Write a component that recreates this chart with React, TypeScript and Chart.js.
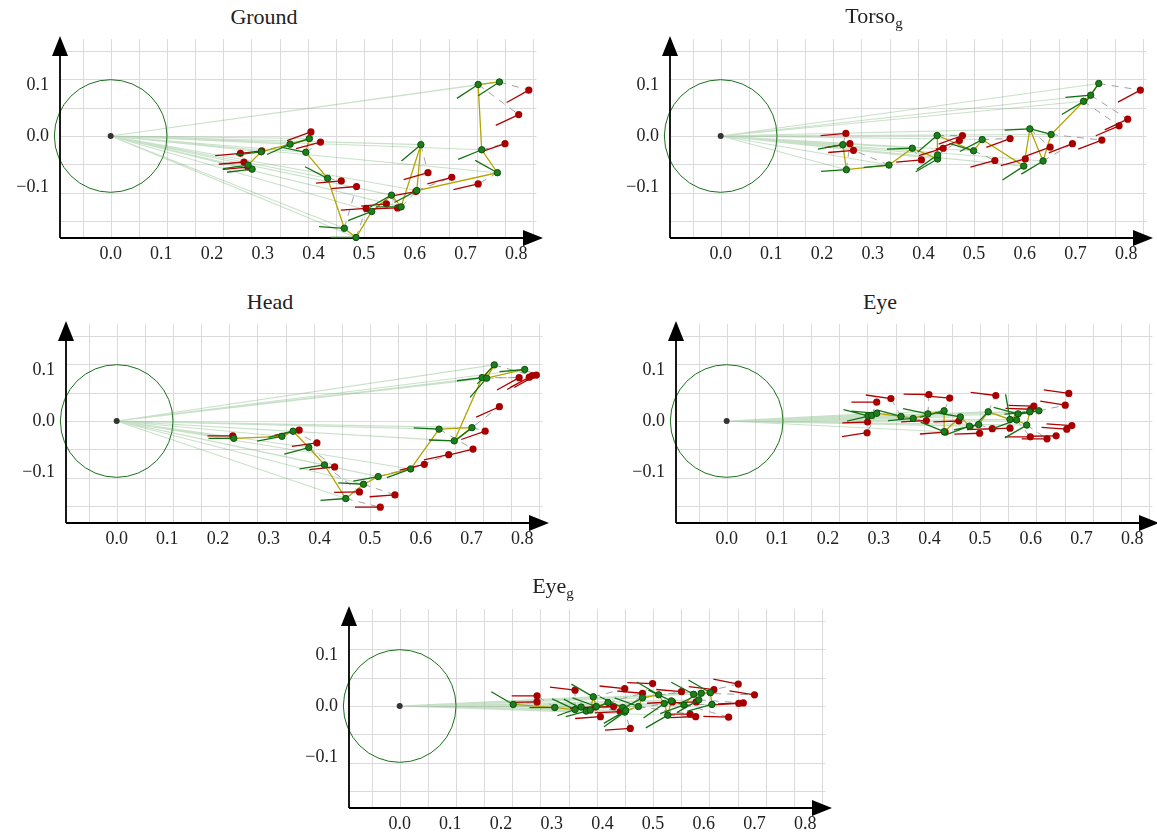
import React, { useEffect, useRef } from "react";
import { Chart, registerables } from "chart.js";

Chart.register(...registerables);

// ---------- axis / tick data ----------
const xTickValues = [0, 0.1, 0.2, 0.3, 0.4, 0.5, 0.6, 0.7, 0.8];
const xTickLabels = ["0.0", "0.1", "0.2", "0.3", "0.4", "0.5", "0.6", "0.7", "0.8"];
const yTickValues = [-0.1, 0, 0.1];
const yTickLabels = ["\u22120.1", "0.0", "0.1"];
const gridStep = 1 / 18;
const circleRadius = 2 / 18;
const headingLength = 0.05;

// ---------- Ground ----------
const groundGreenX = [0.279, 0.271, 0.297, 0.354, 0.392, 0.385, 0.428, 0.461, 0.484, 0.515, 0.554, 0.573, 0.612, 0.604, 0.763, 0.732, 0.725, 0.767];
const groundGreenY = [-0.065, -0.057, -0.031, -0.016, -0.005, -0.032, -0.083, -0.181, -0.199, -0.148, -0.116, -0.139, -0.017, -0.107, -0.072, -0.027, 0.101, 0.106];
const groundGreenHeading = [7, 8, 7, 24, 18, -12, -27, -4, 0, 21, 29, 0, 40, 28, -29, 22, 33, 33];
const groundRedX = [0.271, 0.263, 0.256, 0.298, 0.395, 0.414, 0.455, 0.485, 0.504, 0.544, 0.566, 0.602, 0.626, 0.673, 0.725, 0.778, 0.805, 0.825];
const groundRedY = [-0.061, -0.051, -0.034, -0.029, 0.008, -0.012, -0.088, -0.099, -0.142, -0.133, -0.141, -0.109, -0.072, -0.081, -0.094, -0.015, 0.042, 0.09];
const groundRedHeading = [5, 5, 5, 7, 20, 15, 5, 5, 4, 5, 2, 10, 16, 15, 13, 19, 25, 29];

// ---------- Torso_g ----------
const torsoGreenX = [0.241, 0.248, 0.332, 0.378, 0.428, 0.428, 0.427, 0.499, 0.516, 0.598, 0.61, 0.636, 0.652, 0.716, 0.73, 0.746];
const torsoGreenY = [-0.017, -0.066, -0.057, -0.024, -0.045, -0.037, 0.001, -0.029, -0.007, -0.059, 0.014, -0.049, 0.003, 0.068, 0.08, 0.103];
const torsoGreenHeading = [10, 4, 5, 2, 30, 35, 40, -17, 28, 33, 3, 31, -15, 31, 5, 55];
const torsoRedX = [0.247, 0.255, 0.262, 0.396, 0.439, 0.471, 0.477, 0.541, 0.571, 0.601, 0.65, 0.694, 0.752, 0.786, 0.803, 0.828];
const torsoRedY = [0.005, -0.015, -0.028, -0.047, -0.024, -0.009, 0.001, -0.048, -0.005, -0.045, -0.022, -0.015, -0.008, 0.02, 0.033, 0.09];
const torsoRedHeading = [5, 9, 5, 5, 17, 20, 20, 15, 20, 15, 20, 21, 21, 23, 25, 28];

// ---------- Head ----------
const headGreenX = [0.231, 0.326, 0.348, 0.379, 0.41, 0.452, 0.487, 0.516, 0.58, 0.636, 0.701, 0.666, 0.721, 0.745, 0.73, 0.805];
const headGreenY = [-0.034, -0.03, -0.02, -0.052, -0.086, -0.152, -0.124, -0.109, -0.094, -0.016, -0.013, -0.039, 0.085, 0.11, 0.084, 0.101];
const headGreenHeading = [0, 11, 14, 15, 9, 4, -3, 10, 20, -3, 38, -2, 7, 48, 49, 5];
const headRedX = [0.229, 0.36, 0.395, 0.43, 0.479, 0.52, 0.549, 0.607, 0.655, 0.703, 0.727, 0.755, 0.794, 0.82, 0.814, 0.828];
const headRedY = [-0.029, -0.018, -0.043, -0.09, -0.139, -0.169, -0.145, -0.085, -0.066, -0.055, -0.02, 0.028, 0.085, 0.089, 0.086, 0.09];
const headRedHeading = [0, 12, 8, 6, 1, 0, 4, 13, 12, 14, 19, 24, 29, 28, 29, 29];

// ---------- Eye ----------
const eyeGreenX = [0.279, 0.286, 0.296, 0.344, 0.368, 0.397, 0.429, 0.429, 0.461, 0.479, 0.497, 0.516, 0.559, 0.575, 0.572, 0.592, 0.598, 0.616];
const eyeGreenY = [0.01, 0.011, 0.015, 0.009, 0.005, 0.014, 0.02, -0.021, 0.008, -0.01, -0.007, 0.018, 0.003, 0.014, 0.002, -0.008, 0.018, 0.02];
const eyeGreenHeading = [-14, 13, -5, -15, 5, -12, 15, -22, -10, 20, 12, 45, -80, -15, 20, 30, 5, 10];
const eyeRedX = [0.278, 0.296, 0.277, 0.324, 0.394, 0.399, 0.44, 0.431, 0.458, 0.499, 0.524, 0.531, 0.559, 0.6, 0.599, 0.632, 0.606, 0.668, 0.65, 0.675, 0.681, 0.671];
const eyeRedY = [-0.002, 0.037, -0.023, 0.044, 0.001, 0.052, 0.045, -0.022, 0.0, -0.024, -0.015, 0.05, -0.014, 0.023, -0.031, -0.035, 0.029, 0.031, -0.029, 0.054, -0.009, -0.016];
const eyeRedHeading = [2, 0, 9, -8, 3, -1, -5, 4, 2, 2, 2, -7, 2, -2, 0, 0, -2, -9, 1, -8, -4, -4];

// ---------- Eye_g ----------
const eyegGreenX = [0.224, 0.306, 0.346, 0.358, 0.368, 0.376, 0.382, 0.388, 0.411, 0.44, 0.444, 0.446, 0.471, 0.479, 0.511, 0.522, 0.529, 0.536, 0.561, 0.58, 0.59, 0.595, 0.613, 0.616];
const eyegGreenY = [0.003, -0.003, -0.007, -0.002, -0.01, -0.008, 0.018, -0.001, 0.007, -0.003, -0.012, -0.009, -0.001, 0.016, 0.022, 0.005, -0.018, 0.01, 0.002, 0.023, 0.012, 0.025, 0.026, 0.003];
const eyegGreenHeading = [-30, 0, -25, 20, -28, 15, -30, -20, 25, -25, 35, 30, -20, 28, -30, 35, 30, -25, 20, -28, 30, 25, -30, 15];
const eyegRedX = [0.271, 0.271, 0.346, 0.386, 0.396, 0.422, 0.444, 0.435, 0.479, 0.455, 0.499, 0.538, 0.573, 0.556, 0.62, 0.585, 0.584, 0.649, 0.669, 0.668, 0.678, 0.7];
const eyegRedY = [0.008, 0.02, 0.031, -0.002, -0.021, -0.001, 0.034, -0.011, 0.025, -0.044, 0.044, 0.008, -0.016, 0.028, 0.032, 0.008, -0.021, -0.022, 0.005, 0.043, 0.006, 0.022];
const eyegRedHeading = [1, 0, -7, 3, 4, 2, -6, 3, -5, 4, -2, 3, 0, -5, -7, 2, 2, -2, 3, -11, 2, -9];

// ---------- layout ----------
const PX_PER_UNIT = 510;
const X_MIN = -0.1;
const Y_MIN = -0.2;
const PLOT_W = 486;
const PLOT_H = 202;
const PAD = { left: 62, top: 6, right: 2, bottom: 34 };
const GRID_X_MAX = 0.84;
const GRID_Y_MAX = 0.19;

const FONT_FAMILY = '"Liberation Serif", "DejaVu Serif", serif';

type PanelData = {
  gx: number[]; gy: number[]; gh: number[];
  rx: number[]; ry: number[]; rh: number[];
};

const panels = [
  { title: "Ground", sub: "", axisX: 60, axisBottom: 238, data: { gx: groundGreenX, gy: groundGreenY, gh: groundGreenHeading, rx: groundRedX, ry: groundRedY, rh: groundRedHeading } },
  { title: "Torso", sub: "g", axisX: 670, axisBottom: 238, data: { gx: torsoGreenX, gy: torsoGreenY, gh: torsoGreenHeading, rx: torsoRedX, ry: torsoRedY, rh: torsoRedHeading } },
  { title: "Head", sub: "", axisX: 66, axisBottom: 523, data: { gx: headGreenX, gy: headGreenY, gh: headGreenHeading, rx: headRedX, ry: headRedY, rh: headRedHeading } },
  { title: "Eye", sub: "", axisX: 676, axisBottom: 523, data: { gx: eyeGreenX, gy: eyeGreenY, gh: eyeGreenHeading, rx: eyeRedX, ry: eyeRedY, rh: eyeRedHeading } },
  { title: "Eye", sub: "g", axisX: 349, axisBottom: 808, data: { gx: eyegGreenX, gy: eyegGreenY, gh: eyegGreenHeading, rx: eyegRedX, ry: eyegRedY, rh: eyegRedHeading } },
];

const GAP = { x: NaN, y: NaN };
const rad = (d: number) => (d * Math.PI) / 180;

function buildDatasets(d: PanelData) {
  const rays: any[] = [];
  const olive: any[] = [];
  const gSegs: any[] = [];
  const rSegs: any[] = [];
  const dashes: any[] = [];
  const gPts: any[] = [];
  const rPts: any[] = [];
  d.gx.forEach((x, i) => {
    const y = d.gy[i];
    rays.push({ x: 0, y: 0 }, { x, y }, GAP);
    olive.push({ x, y });
    gSegs.push({ x: x - headingLength * Math.cos(rad(d.gh[i])), y: y - headingLength * Math.sin(rad(d.gh[i])) }, { x, y }, GAP);
    gPts.push({ x, y });
    if (i < d.rx.length) dashes.push({ x, y }, { x: d.rx[i], y: d.ry[i] }, GAP);
  });
  d.rx.forEach((x, i) => {
    const y = d.ry[i];
    rSegs.push({ x: x - headingLength * Math.cos(rad(d.rh[i])), y: y - headingLength * Math.sin(rad(d.rh[i])) }, { x, y }, GAP);
    rPts.push({ x, y });
  });
  const line = { showLine: true, pointRadius: 0, spanGaps: false, tension: 0, fill: false, clip: false };
  return [
    { ...line, data: rays, borderColor: "rgba(90,165,90,0.33)", borderWidth: 1.1, order: 9 },
    { ...line, data: dashes, borderColor: "#a0a0a0", borderWidth: 1, borderDash: [7, 6], order: 8 },
    { ...line, data: olive, borderColor: "#b3a400", borderWidth: 1.3, order: 7 },
    { ...line, data: rSegs, borderColor: "#b00000", borderWidth: 1.3, order: 6 },
    { data: rPts, showLine: false, pointRadius: 3.6, pointBackgroundColor: "#a80000", pointBorderColor: "#a80000", pointBorderWidth: 0, clip: false, order: 5 },
    { ...line, data: gSegs, borderColor: "#137313", borderWidth: 1.3, order: 4 },
    { data: gPts, showLine: false, pointRadius: 3.2, pointBackgroundColor: "#1c7e1c", pointBorderColor: "#0b520b", pointBorderWidth: 1, clip: false, order: 3 },
    { data: [{ x: 0, y: 0 }], showLine: false, pointRadius: 3, pointBackgroundColor: "#333333", pointBorderColor: "#333333", pointBorderWidth: 0, clip: false, order: 2 },
  ];
}

const decorPlugin = {
  id: "decor",
  beforeDatasetsDraw(chart: any) {
    const { ctx, chartArea } = chart;
    const xs = chart.scales.x;
    const ys = chart.scales.y;
    ctx.save();
    // grid
    ctx.strokeStyle = "#dadada";
    ctx.lineWidth = 1;
    const top = ys.getPixelForValue(GRID_Y_MAX);
    const right = xs.getPixelForValue(GRID_X_MAX);
    for (let k = -1; k * gridStep <= GRID_X_MAX + 1e-9; k++) {
      const px = Math.round(xs.getPixelForValue(k * gridStep)) + 0.5;
      ctx.beginPath();
      ctx.moveTo(px, chartArea.bottom);
      ctx.lineTo(px, top);
      ctx.stroke();
    }
    for (let k = -3; k * gridStep <= GRID_Y_MAX; k++) {
      const py = Math.round(ys.getPixelForValue(k * gridStep)) + 0.5;
      ctx.beginPath();
      ctx.moveTo(chartArea.left, py);
      ctx.lineTo(right, py);
      ctx.stroke();
    }
    // circle
    const cx = xs.getPixelForValue(0);
    const cy = ys.getPixelForValue(0);
    const r = xs.getPixelForValue(circleRadius) - cx;
    ctx.strokeStyle = "#1a701a";
    ctx.lineWidth = 1;
    ctx.beginPath();
    ctx.arc(cx, cy, r, 0, Math.PI * 2);
    ctx.stroke();
    // axes
    const ax = xs.getPixelForValue(X_MIN);
    const ay = ys.getPixelForValue(Y_MIN);
    ctx.strokeStyle = "#000";
    ctx.fillStyle = "#000";
    ctx.lineWidth = 1.8;
    ctx.beginPath();
    ctx.moveTo(ax, ay);
    ctx.lineTo(ax, chartArea.top + 18);
    ctx.moveTo(ax, ay);
    ctx.lineTo(chartArea.right - 18, ay);
    ctx.stroke();
    ctx.beginPath();
    ctx.moveTo(ax, chartArea.top);
    ctx.lineTo(ax - 8, chartArea.top + 20);
    ctx.lineTo(ax + 8, chartArea.top + 20);
    ctx.closePath();
    ctx.fill();
    ctx.beginPath();
    ctx.moveTo(chartArea.right, ay);
    ctx.lineTo(chartArea.right - 20, ay - 8);
    ctx.lineTo(chartArea.right - 20, ay + 8);
    ctx.closePath();
    ctx.fill();
    // tick labels
    ctx.fillStyle = "#222";
    ctx.font = `18px ${FONT_FAMILY}`;
    ctx.textBaseline = "middle";
    ctx.textAlign = "center";
    xTickValues.forEach((v, i) => {
      ctx.fillText(xTickLabels[i], xs.getPixelForValue(v), ay + 16);
    });
    ctx.textAlign = "right";
    yTickValues.forEach((v, i) => {
      ctx.fillText(yTickLabels[i], ax - 11, ys.getPixelForValue(v));
    });
    ctx.restore();
  },
};

function Panel(props: { title: string; sub: string; axisX: number; axisBottom: number; data: PanelData }) {
  const ref = useRef<HTMLCanvasElement | null>(null);
  const width = PAD.left + PLOT_W + PAD.right;
  const height = PAD.top + PLOT_H + PAD.bottom;
  useEffect(() => {
    if (!ref.current) return;
    const chart = new Chart(ref.current, {
      type: "scatter",
      data: { datasets: buildDatasets(props.data) as any },
      options: {
        responsive: false,
        animation: false,
        devicePixelRatio: 1,
        layout: { padding: PAD },
        scales: {
          x: { type: "linear", min: X_MIN, max: X_MIN + PLOT_W / PX_PER_UNIT, display: false },
          y: { type: "linear", min: Y_MIN, max: Y_MIN + PLOT_H / PX_PER_UNIT, display: false },
        },
        plugins: { legend: { display: false }, tooltip: { enabled: false }, title: { display: false } },
        events: [],
      },
      plugins: [decorPlugin],
    });
    return () => chart.destroy();
  }, []);
  const left = props.axisX - PAD.left;
  const top = props.axisBottom - PLOT_H - PAD.top;
  return (
    <>
      <canvas ref={ref} width={width} height={height} style={{ position: "absolute", left, top, width, height }} />
      <div
        style={{
          position: "absolute",
          left: props.axisX + 204,
          top: props.axisBottom - 221,
          transform: "translate(-50%, -50%)",
          fontFamily: FONT_FAMILY,
          fontSize: 22,
          color: "#222",
          whiteSpace: "nowrap",
          lineHeight: "24px",
        }}
      >
        {props.title}
        {props.sub ? <span style={{ fontSize: 15, position: "relative", top: 5 }}>{props.sub}</span> : null}
      </div>
    </>
  );
}

export default function App() {
  return (
    <div style={{ position: "absolute", left: 0, top: 0, width: 1157, height: 836, background: "#fff", overflow: "hidden" }}>
      {panels.map((p, i) => (
        <Panel key={i} title={p.title} sub={p.sub} axisX={p.axisX} axisBottom={p.axisBottom} data={p.data} />
      ))}
    </div>
  );
}
